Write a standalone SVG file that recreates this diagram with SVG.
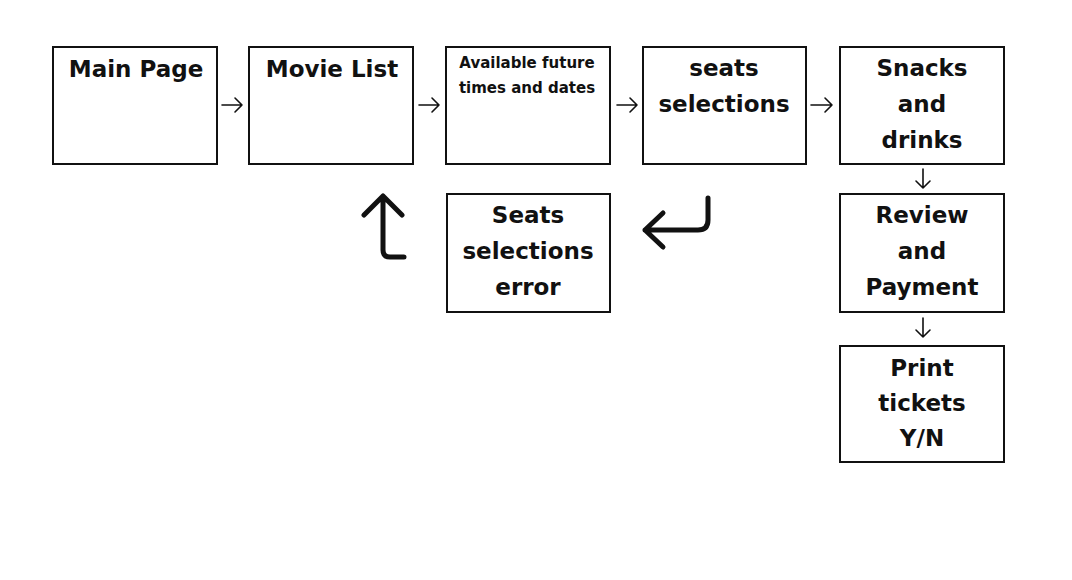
<svg xmlns="http://www.w3.org/2000/svg" width="1072" height="580" viewBox="0 0 1072 580">
<style>
.box{fill:#fff;stroke:#111;stroke-width:2}
.t{font-family:"DejaVu Sans","Noto Sans",sans-serif;font-weight:700;font-size:23px;fill:#111;text-anchor:middle}
.s{font-size:15px}
.c{fill:none;stroke:#111;stroke-width:1.6;stroke-linecap:round;stroke-linejoin:round}
.big{fill:none;stroke:#111;stroke-width:5;stroke-linecap:round;stroke-linejoin:round}
</style>
<rect width="1072" height="580" fill="#fff"/>
<g id="main-page"><rect class="box" x="53" y="47" width="164" height="117"/><text class="t" x="136" y="77">Main Page</text></g>
<g id="movie-list"><rect class="box" x="249" y="47" width="164" height="117"/><text class="t" x="332" y="77">Movie List</text></g>
<g id="available"><rect class="box" x="446" y="47" width="164" height="117"/><text class="t s" x="527" y="68">Available future</text><text class="t s" x="527" y="93">times and dates</text></g>
<g id="seats-selections"><rect class="box" x="643" y="47" width="163" height="117"/><text class="t" x="724" y="76">seats</text><text class="t" x="724" y="112">selections</text></g>
<g id="snacks"><rect class="box" x="840" y="47" width="164" height="117"/><text class="t" x="922" y="76">Snacks</text><text class="t" x="922" y="112">and</text><text class="t" x="922" y="148">drinks</text></g>
<g id="review"><rect class="box" x="840" y="194" width="164" height="118"/><text class="t" x="922" y="223">Review</text><text class="t" x="922" y="259">and</text><text class="t" x="922" y="295">Payment</text></g>
<g id="print"><rect class="box" x="840" y="346" width="164" height="116"/><text class="t" x="922" y="376">Print</text><text class="t" x="922" y="411">tickets</text><text class="t" x="922" y="446">Y/N</text></g>
<g id="seats-error"><rect class="box" x="447" y="194" width="163" height="118"/><text class="t" x="528" y="223">Seats</text><text class="t" x="528" y="259">selections</text><text class="t" x="528" y="295">error</text></g>
<g id="connectors">
<path class="c" d="M222 105H242M235 98L242 105L235 112"/>
<path class="c" d="M419 105H439M432 98L439 105L432 112"/>
<path class="c" d="M617 105H637M630 98L637 105L630 112"/>
<path class="c" d="M811 105H832M825 98L832 105L825 112"/>
<path class="c" d="M923 169V188M916 181L923 188L930 181"/>
<path class="c" d="M923 318V337M916 330L923 337L930 330"/>
<path class="big" d="M404 257H390Q383 257 383 250V196M364 215L383 196L402 215"/>
<path class="big" d="M708 198V220Q708 230 698 230H645M663 213L645 230L663 247"/>
</g>
</svg>
